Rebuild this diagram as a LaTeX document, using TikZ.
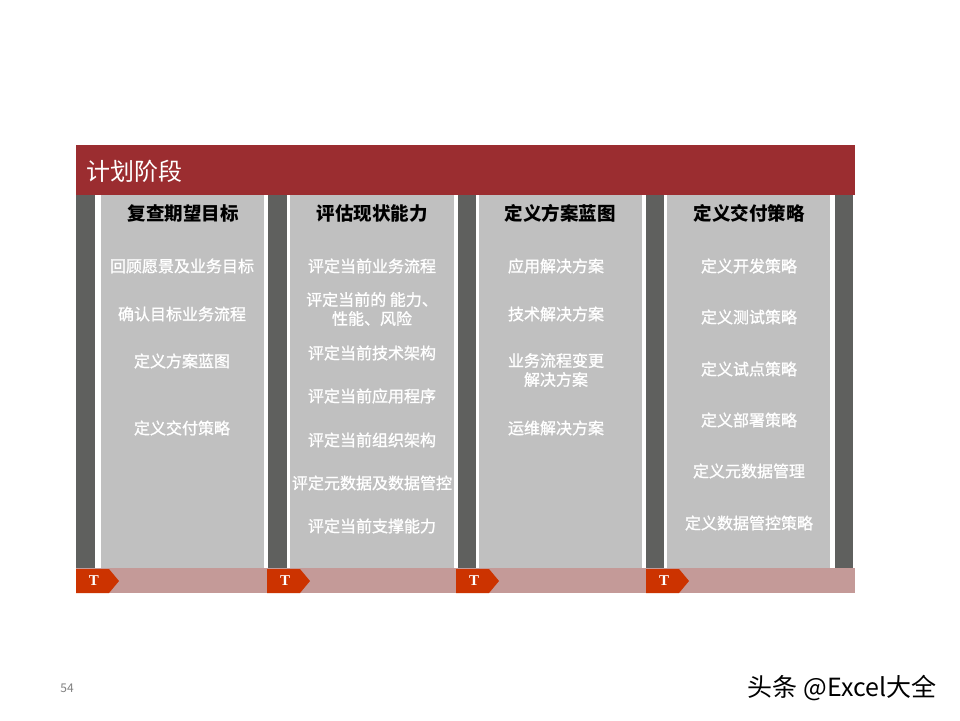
\documentclass[tikz,border=0pt]{standalone}
\usepackage{fontspec}
\setmainfont{Noto Sans CJK SC}
\newfontfamily\pasofont{Noto Sans CJK SC}[FakeBold=1.2]
\newfontfamily\letrafont{Liberation Serif}
\usetikzlibrary{positioning}
\definecolor{rojofase}{HTML}{9B2D30}
\definecolor{grisoscuro}{HTML}{5F605E}
\definecolor{grisclaro}{HTML}{C0C0C0}
\definecolor{rosado}{HTML}{C49A98}
\definecolor{rojotab}{HTML}{CC3300}
\tikzstyle{banda} = [fill=rojofase]
\tikzstyle{tira} = [fill=grisoscuro]
\tikzstyle{panel} = [fill=grisclaro]
\tikzstyle{pestana} = [fill=rojotab]
\tikzstyle{titulo} = [text=black, inner sep=0pt, font=\fontsize{18.5}{20}\selectfont\bfseries]
\tikzstyle{paso} = [text=white, inner sep=0pt, align=center, font=\fontsize{16}{19}\selectfont\pasofont]
\tikzstyle{letra} = [text=white, inner sep=0pt, font=\fontsize{15}{15}\selectfont\letrafont\bfseries]

\begin{document}
\begin{tikzpicture}[x=1pt,y=-1pt]
	\useasboundingbox[fill=white] (0,0) rectangle (960,720);
	% cabecera
	\fill[banda] (76,145) rectangle (855,195);
	\node[text=white, anchor=west, inner sep=0pt, font=\fontsize{24}{26}\selectfont] (fase) at (86,171) {计划阶段};
	% tiras y paneles
	\fill[tira] (76,195) rectangle (95,568);
	\fill[panel] (101,195) rectangle (264,568);
	\fill[tira] (268,195) rectangle (287,568);
	\fill[panel] (290,195) rectangle (454,568);
	\fill[tira] (458,195) rectangle (476,568);
	\fill[panel] (479,195) rectangle (642,568);
	\fill[tira] (646,195) rectangle (664,568);
	\fill[panel] (667,195) rectangle (830,568);
	\fill[tira] (835,195) rectangle (853,568);
	% barra inferior
	\fill[rosado] (76,568) rectangle (855,593);
	\foreach \x/\n in {76/t1, 267/t2, 456/t3, 646/t4}{
		\fill[pestana] (\x,569) -- ++(33,0) -- ++(10,12) -- ++(-10,12) -- ++(-33,0) -- cycle;
		\node[letra] (\n) at (\x+18,581) {T};
	}
	% columna 1
	\node[titulo] (c1) at (183,213) {复查期望目标};
	\node[paso] (c1a) at (182,266) {回顾愿景及业务目标};
	\node[paso] (c1b) at (182,314) {确认目标业务流程};
	\node[paso] (c1c) at (182,361) {定义方案蓝图};
	\node[paso] (c1d) at (182,428) {定义交付策略};
	% columna 2
	\node[titulo] (c2) at (372,213) {评估现状能力};
	\node[paso] (c2a) at (372,266) {评定当前业务流程};
	\node[paso] (c2b) at (372,309) {评定当前的 能力、\\性能、风险};
	\node[paso] (c2c) at (372,353) {评定当前技术架构};
	\node[paso] (c2d) at (372,396) {评定当前应用程序};
	\node[paso] (c2e) at (372,440) {评定当前组织架构};
	\node[paso] (c2f) at (372,483) {评定元数据及数据管控};
	\node[paso] (c2g) at (372,526) {评定当前支撑能力};
	% columna 3
	\node[titulo] (c3) at (560,213) {定义方案蓝图};
	\node[paso] (c3a) at (556,266) {应用解决方案};
	\node[paso] (c3b) at (556,314) {技术解决方案};
	\node[paso] (c3c) at (556,370) {业务流程变更\\解决方案};
	\node[paso] (c3d) at (556,428) {运维解决方案};
	% columna 4
	\node[titulo] (c4) at (749,213) {定义交付策略};
	\node[paso] (c4a) at (749,266) {定义开发策略};
	\node[paso] (c4b) at (749,317) {定义测试策略};
	\node[paso] (c4c) at (749,369) {定义试点策略};
	\node[paso] (c4d) at (749,420) {定义部署策略};
	\node[paso] (c4e) at (749,471) {定义元数据管理};
	\node[paso] (c4f) at (749,523) {定义数据管控策略};
	% pie
	\node[text=gray, inner sep=0pt, font=\fontsize{12}{12}\selectfont] (pagina) at (67,688) {54};
	\node[text=black, inner sep=0pt, font=\fontsize{25}{27}\selectfont] (marca) at (842,688) {头条 @Excel大全};
\end{tikzpicture}
\end{document}
